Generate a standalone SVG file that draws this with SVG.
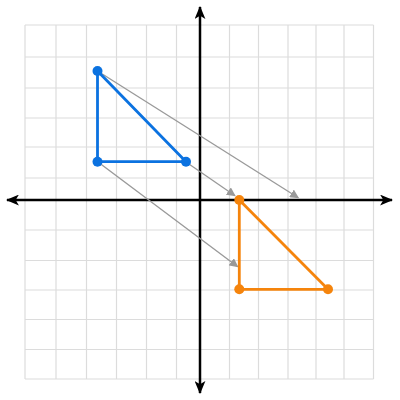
<svg xmlns="http://www.w3.org/2000/svg" width="400" height="400" viewBox="0 0 400 400">
<defs>
<style>
.grid line{stroke:#dcdcdc;stroke-width:1.2}
.axis{stroke:#000;stroke-width:2.5;fill:none}
.conn{stroke:#999;stroke-width:1.3;fill:none}
.blue{stroke:#0b72e0;stroke-width:2.8;fill:none;stroke-linejoin:round}
.orange{stroke:#f5840c;stroke-width:2.8;fill:none;stroke-linejoin:round}
.bdot{fill:#0b72e0}
.odot{fill:#f5840c}
</style>
<marker id="ah" viewBox="0 0 10 10" refX="9" refY="5" markerWidth="9" markerHeight="9" markerUnits="userSpaceOnUse" orient="auto">
<path d="M0,0 L10,5 L0,10 Z" fill="#999"/>
</marker>
<marker id="axh" viewBox="0 0 12 10" refX="11" refY="5" markerWidth="13" markerHeight="11" markerUnits="userSpaceOnUse" orient="auto">
<path d="M0,0 L12,5 L0,10 L3,5 Z" fill="#000"/>
</marker>
</defs>
<rect width="400" height="400" fill="#fff"/>
<g class="grid" id="grid">
<line x1="25" y1="25" x2="25" y2="379"/>
<line x1="56" y1="25" x2="56" y2="379"/>
<line x1="86.5" y1="25" x2="86.5" y2="379"/>
<line x1="116.5" y1="25" x2="116.5" y2="379"/>
<line x1="146.5" y1="25" x2="146.5" y2="379"/>
<line x1="176.5" y1="25" x2="176.5" y2="379"/>
<line x1="229.5" y1="25" x2="229.5" y2="379"/>
<line x1="258.5" y1="25" x2="258.5" y2="379"/>
<line x1="288" y1="25" x2="288" y2="379"/>
<line x1="316" y1="25" x2="316" y2="379"/>
<line x1="344" y1="25" x2="344" y2="379"/>
<line x1="373.5" y1="25" x2="373.5" y2="379"/>
<line x1="25" y1="25" x2="373.5" y2="25"/>
<line x1="25" y1="57" x2="373.5" y2="57"/>
<line x1="25" y1="88" x2="373.5" y2="88"/>
<line x1="25" y1="118" x2="373.5" y2="118"/>
<line x1="25" y1="147" x2="373.5" y2="147"/>
<line x1="25" y1="178" x2="373.5" y2="178"/>
<line x1="25" y1="230" x2="373.5" y2="230"/>
<line x1="25" y1="260.5" x2="373.5" y2="260.5"/>
<line x1="25" y1="290" x2="373.5" y2="290"/>
<line x1="25" y1="319.5" x2="373.5" y2="319.5"/>
<line x1="25" y1="349.5" x2="373.5" y2="349.5"/>
<line x1="25" y1="379" x2="373.5" y2="379"/>
</g>
<g id="axes">
<line class="axis" x1="200" y1="200" x2="392" y2="200" marker-end="url(#axh)"/>
<line class="axis" x1="200" y1="200" x2="7" y2="200" marker-end="url(#axh)"/>
<line class="axis" x1="200" y1="200" x2="200" y2="7" marker-end="url(#axh)"/>
<line class="axis" x1="200" y1="200" x2="200" y2="393" marker-end="url(#axh)"/>
</g>
<g id="connectors">
<line class="conn" x1="97.5" y1="71" x2="298.3" y2="197.7" marker-end="url(#ah)"/>
<line class="conn" x1="186" y1="162" x2="235" y2="195.7" marker-end="url(#ah)"/>
<line class="conn" x1="98" y1="162" x2="237.7" y2="266.7" marker-end="url(#ah)"/>
</g>
<g id="blue-triangle">
<polygon class="blue" points="97.5,71 97.5,161.7 186,161.7"/>
<circle class="bdot" cx="97.5" cy="71" r="5"/>
<circle class="bdot" cx="97.5" cy="161.7" r="5"/>
<circle class="bdot" cx="186" cy="161.7" r="5"/>
</g>
<g id="orange-triangle">
<polygon class="orange" points="239.3,200 239.3,289.3 328,289.3"/>
<circle class="odot" cx="239.3" cy="200" r="5"/>
<circle class="odot" cx="239.3" cy="289.3" r="5"/>
<circle class="odot" cx="328" cy="289.3" r="5"/>
</g>
</svg>
